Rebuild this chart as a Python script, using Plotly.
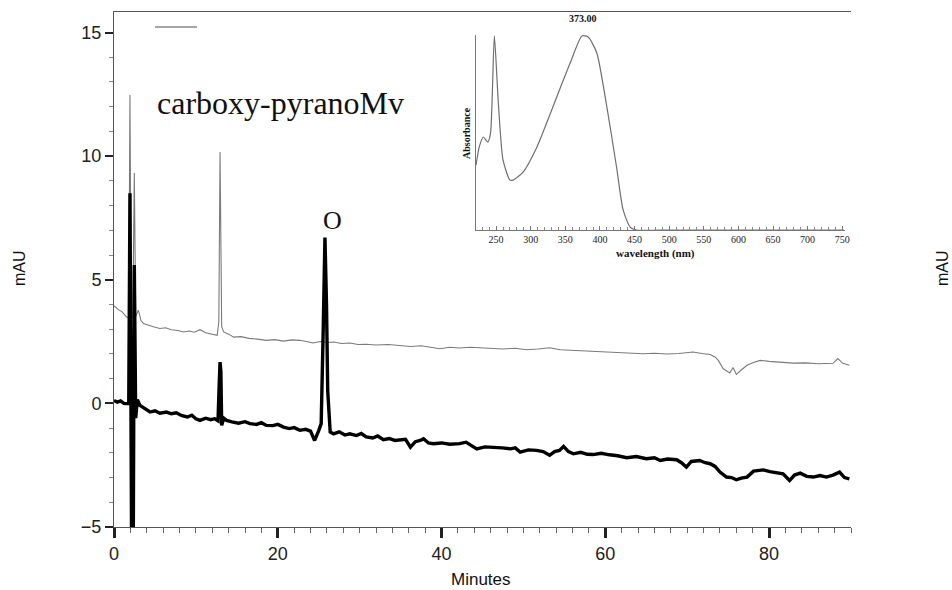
import plotly.graph_objects as go

# ---------------- data ----------------
gray_t = [0, 0.5, 1.0, 1.5, 1.8, 1.95, 2.1, 2.3, 2.48, 2.65, 2.97, 3.3, 3.6, 4.2, 4.8, 5.6,
          6.3, 7.0, 7.8, 8.5, 9.2, 9.8, 10.5, 11.2, 12.0, 12.6, 12.8, 12.95, 13.15, 13.4,
          14.0, 14.6, 15.5, 16.5, 17.5, 18.6, 19.6, 20.7, 21.7, 22.7, 23.5, 24.3, 25.2,
          26.0, 26.8, 27.8, 28.8, 29.8, 30.8, 32.0, 33.5, 34.9, 36.2, 37.5, 38.7, 39.8,
          41.0, 42.2, 43.5, 44.7, 46.0, 47.5, 49.0, 50.4, 51.8, 53.2, 54.5, 56.0, 57.2,
          58.5, 60.0, 61.5, 63.0, 64.6, 66.0, 67.5, 69.0, 70.7, 71.8, 72.8, 73.4, 73.8,
          74.4, 74.8, 75.2, 75.6, 76.0, 76.6, 77.3, 78.1, 78.9, 80.0, 81.5, 82.9, 84.5,
          86.0, 87.0, 87.8, 88.4, 89.0, 89.8]
gray_v = [3.95, 3.8, 3.7, 3.5, 3.45, 12.47, 3.5, 3.45, 9.32, 3.5, 3.77, 3.35, 3.23, 3.15,
          3.1, 3.03, 3.06, 2.98, 2.95, 2.89, 2.93, 2.88, 2.98, 2.86, 2.8, 2.75, 3.3, 10.17,
          3.1, 2.89, 2.8, 2.68, 2.7, 2.63, 2.6, 2.55, 2.58, 2.52, 2.57, 2.55, 2.5, 2.44,
          2.5, 2.46, 2.48, 2.42, 2.44, 2.38, 2.39, 2.36, 2.38, 2.35, 2.3, 2.33, 2.26, 2.21,
          2.27, 2.24, 2.27, 2.25, 2.22, 2.2, 2.23, 2.17, 2.2, 2.25, 2.17, 2.15, 2.13, 2.12,
          2.1, 2.07, 2.04, 2.01, 2.03, 2.0, 2.02, 2.08, 2.02, 1.98, 1.88, 1.74, 1.4, 1.3,
          1.23, 1.45, 1.17, 1.35, 1.54, 1.65, 1.74, 1.7, 1.66, 1.63, 1.64, 1.6, 1.61, 1.62,
          1.81, 1.62, 1.54]

black_t = [0, 0.4, 0.8, 1.2, 1.55, 1.8, 1.95, 2.15, 2.35, 2.48, 2.65, 2.85, 3.17, 3.5, 3.9,
           4.4, 5.0, 5.6, 6.4, 7.0, 7.6, 8.3, 8.97, 9.5, 10.0, 10.5, 11.2, 11.8, 12.3, 12.7,
           12.85, 12.95, 13.05, 13.15, 13.4, 13.75, 14.4, 15.2, 16.0, 16.6, 17.4, 18.0,
           18.6, 19.4, 20.0, 20.7, 21.4, 22.0, 22.7, 23.4, 24.0, 24.5, 25.0, 25.3, 25.55,
           25.76, 25.95, 26.1, 26.4, 26.8, 27.5, 28.2, 28.8, 29.6, 30.2, 30.8, 31.6, 32.2,
           32.9, 33.6, 34.3, 34.9, 35.6, 36.2, 36.8, 37.4, 37.8, 38.4, 39.0, 40.0, 41.0,
           42.2, 43.0, 43.6, 44.3, 45.3, 46.3, 47.4, 48.4, 49.0, 49.6, 50.6, 51.6, 52.4,
           53.2, 53.8, 54.4, 54.9, 55.5, 56.1, 57.0, 57.8, 58.5, 59.5, 60.5, 61.5, 62.6,
           63.8, 65.0, 66.0, 66.7, 67.6, 68.7, 69.3, 69.9, 70.5, 71.5, 72.2, 72.8, 73.4,
           74.0, 74.8, 75.4, 76.0, 76.6, 77.3, 78.1, 78.7, 79.3, 80.1, 80.9, 81.7, 82.5,
           83.1, 83.8, 84.6, 85.4, 86.2, 87.0, 87.8, 88.6, 89.2, 89.8]
black_v = [0.12, 0.05, 0.1, 0.0, -0.01, 0.0, 8.5, -6.0, -6.0, 5.6, -0.6, 0.15, -0.08, -0.15,
           -0.25, -0.35, -0.3, -0.4, -0.35, -0.42, -0.38, -0.5, -0.55, -0.48, -0.62, -0.69,
           -0.6, -0.66, -0.62, -0.7, 0.8, 1.67, 1.3, -0.89, -0.6, -0.69, -0.75, -0.8, -0.74,
           -0.82, -0.85, -0.78, -0.89, -0.9, -0.85, -0.96, -1.02, -0.98, -1.09, -1.05,
           -1.12, -1.5, -1.1, -0.82, 3.0, 6.71, 4.0, 0.5, -1.16, -1.23, -1.15, -1.28, -1.23,
           -1.3, -1.22, -1.36, -1.4, -1.32, -1.47, -1.42, -1.5, -1.47, -1.45, -1.77, -1.55,
           -1.5, -1.43, -1.6, -1.63, -1.6, -1.65, -1.63, -1.57, -1.7, -1.84, -1.76, -1.77,
           -1.8, -1.84, -1.8, -1.97, -1.88, -1.9, -1.95, -2.1, -1.95, -1.9, -1.74, -1.95,
           -2.04, -1.98, -2.06, -2.07, -2.02, -2.08, -2.12, -2.2, -2.15, -2.24, -2.2, -2.31,
           -2.25, -2.28, -2.4, -2.58, -2.35, -2.31, -2.4, -2.44, -2.55, -2.78, -2.98, -3.0,
           -3.09, -3.02, -2.98, -2.74, -2.7, -2.69, -2.76, -2.82, -2.85, -3.12, -2.9, -2.82,
           -2.95, -2.98, -2.92, -2.98, -2.9, -2.78, -3.0, -3.05]

spec_nm = [221, 226, 231.6, 238, 242, 247.5, 253, 260, 270, 274.6, 289, 309, 332, 357, 374,
           383, 395.5, 410, 424, 433.5, 443.6, 453, 500, 600, 700, 752]
spec_abs = [0.333, 0.43, 0.477, 0.451, 0.497, 0.995, 0.667, 0.359, 0.256, 0.256, 0.297,
            0.426, 0.631, 0.856, 0.995, 0.99, 0.908, 0.631, 0.323, 0.103, 0.015, 0.0, 0.0,
            0.0, 0.0, 0.0]

y_ticks = [-5, 0, 5, 10, 15]
x_ticks = [0, 20, 40, 60, 80]
spec_ticks = [250, 300, 350, 400, 450, 500, 550, 600, 650, 700, 750]

# ---------------- layout helpers ----------------
W, H = 952, 590
L, R, T, B = 114, 851, 12, 527


def px(x):
    return (x - L) / (R - L)


def py(y):
    return (B - y) / (B - T)


SERIF = "Liberation Serif, Times New Roman, serif"
SANS = "Liberation Sans, Arial, sans-serif"
AXC = "#555555"

fig = go.Figure()
fig.add_trace(go.Scatter(x=gray_t, y=gray_v, mode="lines",
                         line=dict(color="#7a7a7a", width=1.1), showlegend=False,
                         hoverinfo="skip"))
fig.add_trace(go.Scatter(x=black_t, y=black_v, mode="lines",
                         line=dict(color="#000000", width=3.4), showlegend=False,
                         hoverinfo="skip"))
fig.add_trace(go.Scatter(x=spec_nm, y=spec_abs, mode="lines", xaxis="x2", yaxis="y3",
                         line=dict(color="#6f6f6f", width=1.2, shape="spline",
                                   smoothing=0.6),
                         showlegend=False, hoverinfo="skip"))

fig.update_layout(
    width=W, height=H,
    margin=dict(l=L, r=W - R, t=T, b=H - B, autoexpand=False),
    paper_bgcolor="white", plot_bgcolor="rgba(0,0,0,0)",
    xaxis=dict(range=[0, 90], tickvals=x_ticks, ticks="outside", ticklen=10, tickwidth=2.5,
               tickcolor="#222", showline=True, linecolor=AXC, linewidth=1, mirror=True,
               showgrid=False, zeroline=False,
               tickfont=dict(family=SANS, size=18, color="#222"),
               minor=dict(dtick=2, ticks="outside", ticklen=5, tickwidth=1,
                          tickcolor="#666"),
               domain=[0, 1]),
    yaxis=dict(range=[-5, 15.83], tickvals=y_ticks, ticks="outside", ticklen=8,
               tickwidth=2, tickcolor="#222", showline=True, linecolor=AXC, linewidth=1,
               showgrid=False, zeroline=False,
               tickfont=dict(family=SANS, size=18, color="#222"),
               minor=dict(dtick=1, ticks="outside", ticklen=4, tickwidth=1,
                          tickcolor="#888")),
    yaxis2=dict(range=[-5, 15.83], overlaying="y", side="right", anchor="x",
                showticklabels=False, ticks="outside", ticklen=4, tickwidth=1,
                tickcolor="#777", dtick=1, tick0=0, showline=True, linecolor=AXC,
                linewidth=1, showgrid=False, zeroline=False),
    xaxis2=dict(domain=[px(476), px(845)], anchor="y3", range=[221, 754],
                tickvals=spec_ticks, ticks="inside", ticklen=4, tickwidth=1,
                tickcolor="#777", showline=True, linecolor="#777", linewidth=1,
                showgrid=False, zeroline=False,
                tickfont=dict(family=SERIF, size=10, color="#222"),
                minor=dict(dtick=10, ticks="inside", ticklen=3, tickwidth=1,
                           tickcolor="#888")),
    yaxis3=dict(domain=[py(230), py(35)], anchor="x2", range=[0, 1.0],
                showticklabels=False, ticks="", showline=True, linecolor="#777",
                linewidth=1, showgrid=False, zeroline=False),
)

# legend-style sample line at top left
fig.add_shape(type="line", xref="paper", yref="paper", x0=px(155), x1=px(197),
              y0=py(27), y1=py(27), line=dict(color="#888888", width=1.5))


def ann(text, x, y, size, family, bold=False, angle=0):
    t = f"<b>{text}</b>" if bold else text
    fig.add_annotation(text=t, xref="paper", yref="paper", x=px(x), y=py(y),
                       xanchor="center", yanchor="middle", showarrow=False,
                       textangle=angle, font=dict(family=family, size=size, color="#111"))


ann("carboxy-pyranoMv", 280, 103, 32, SERIF)
ann("O", 332, 220, 26, SERIF)
ann("373.00", 583, 19, 10, SERIF, bold=True)
ann("wavelength (nm)", 655, 253, 11, SERIF, bold=True)
ann("Absorbance", 466, 133, 10, SERIF, bold=True, angle=-90)
ann("mAU", 19, 268, 16, SANS, angle=-90)
ann("mAU", 942, 268, 16, SANS, angle=-90)
ann("Minutes", 481, 579, 17, SANS)

fig.write_html("out.html",
               config={"displayModeBar": False},
               post_script="document.body.style.margin='0';"
                           "document.body.style.overflow='hidden';")
